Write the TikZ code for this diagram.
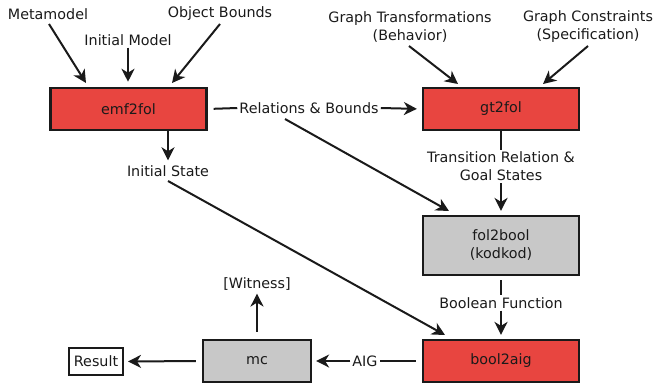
\documentclass[tikz,border=0pt]{standalone}
\usepackage{fontspec}
\setmainfont{DejaVu Sans}
\usetikzlibrary{arrows.meta}
\definecolor{boxred}{RGB}{232,69,64}
\definecolor{boxgrey}{RGB}{200,200,200}
\definecolor{ink}{RGB}{26,26,26}
\begin{document}
\begin{tikzpicture}[x=1pt,y=-1pt,
  every node/.style={font=\fontsize{14.3}{18}\selectfont, text=ink},
  proc/.style={draw=ink, line width=2.2pt, minimum width=156pt, minimum height=42pt, inner sep=0pt, anchor=center},
  redbox/.style={proc, fill=boxred},
  greybox/.style={proc, fill=boxgrey},
  lbl/.style={inner sep=2pt, align=center},
  conn/.style={draw=ink, line width=2pt},
  arr/.style={conn, -{Stealth[length=13pt,width=13pt,inset=4pt]}}
]
\useasboundingbox (0,0) rectangle (655,383);

% boxes
\node[redbox] (emf) at (128.5,109) {emf2fol};
\node[redbox] (gt) at (501,109) {gt2fol};
\node[greybox, minimum height=59pt, align=center] (fol) at (501,245.5) {fol2bool\\(kodkod)};
\node[redbox] (aig) at (501,361) {bool2aig};
\node[greybox, minimum width=108pt] (mc) at (257,361) {mc};
\node[draw=ink, line width=2pt, fill=white, minimum width=54pt, minimum height=27pt, inner sep=0pt] (res) at (96,361.5) {Result};

% input labels
\node[lbl] (meta) at (48,14) {Metamodel};
\node[lbl] (im) at (128,40) {Initial Model};
\node[lbl] (ob) at (220,14) {Object Bounds};
\node[lbl] (gtr) at (410,27) {Graph Transformations\\(Behavior)};
\node[lbl] (gc) at (588,27) {Graph Constraints\\(Specification)};

% intermediate labels
\node[lbl] (rb) at (309,108) {Relations \& Bounds};
\node[lbl] (is) at (168,171) {Initial State};
\node[lbl] (tr) at (501,166.5) {Transition Relation \&\\Goal States};
\node[lbl] (bf) at (501,303) {Boolean Function};
\node[lbl] (ai) at (365,361) {AIG};
\node[lbl] (wit) at (257,284) {[Witness]};

\coordinate (metaS) at (49,24);
\coordinate (metaT) at (86,83);
\coordinate (obS) at (220,24);
\coordinate (obT) at (172,83);
\coordinate (gtrS) at (409,46);
\coordinate (gtrT) at (458,84);
\coordinate (gcS) at (588,46);
\coordinate (gcT) at (543,84);
\coordinate (rbS) at (285,119);
\coordinate (folT) at (449,211);
\coordinate (isS) at (168,181);
\coordinate (aigT) at (445,335);

% connectors
\draw[arr] (metaS) -- (metaT);
\draw[arr] (im.south) -- ++(0,34) coordinate (imT);
\draw[arr] (obS) -- (obT);
\draw[arr] (gtrS) -- (gtrT);
\draw[arr] (gcS) -- (gcT);

\draw[conn, shorten <=6pt] (emf.east) -- (rb.west);
\draw[arr, shorten >=5pt] (rb.east) -- (gt.west);
\draw[arr] (rbS) -- (folT);

\draw[arr, shorten >=3pt] (emf.south -| is.north) -- (is.north);
\draw[arr] (isS) -- (aigT);

\draw[conn] (gt.south) -- (tr.north);
\draw[arr, shorten >=4pt] (tr.south) -- (fol.north);

\draw[conn, shorten <=4pt] (fol.south) -- (bf.north);
\draw[arr, shorten >=4pt] (bf.south) -- (aig.north);

\draw[conn, shorten <=6pt] (aig.west) -- (ai.east);
\draw[arr, shorten >=4pt] (ai.west) -- (mc.east);
\draw[arr, shorten <=6pt, shorten >=4pt] (mc.west) -- (res.east);
\draw[arr, shorten <=7pt, shorten >=1pt] (mc.north) -- (wit.south);
\end{tikzpicture}
\end{document}
